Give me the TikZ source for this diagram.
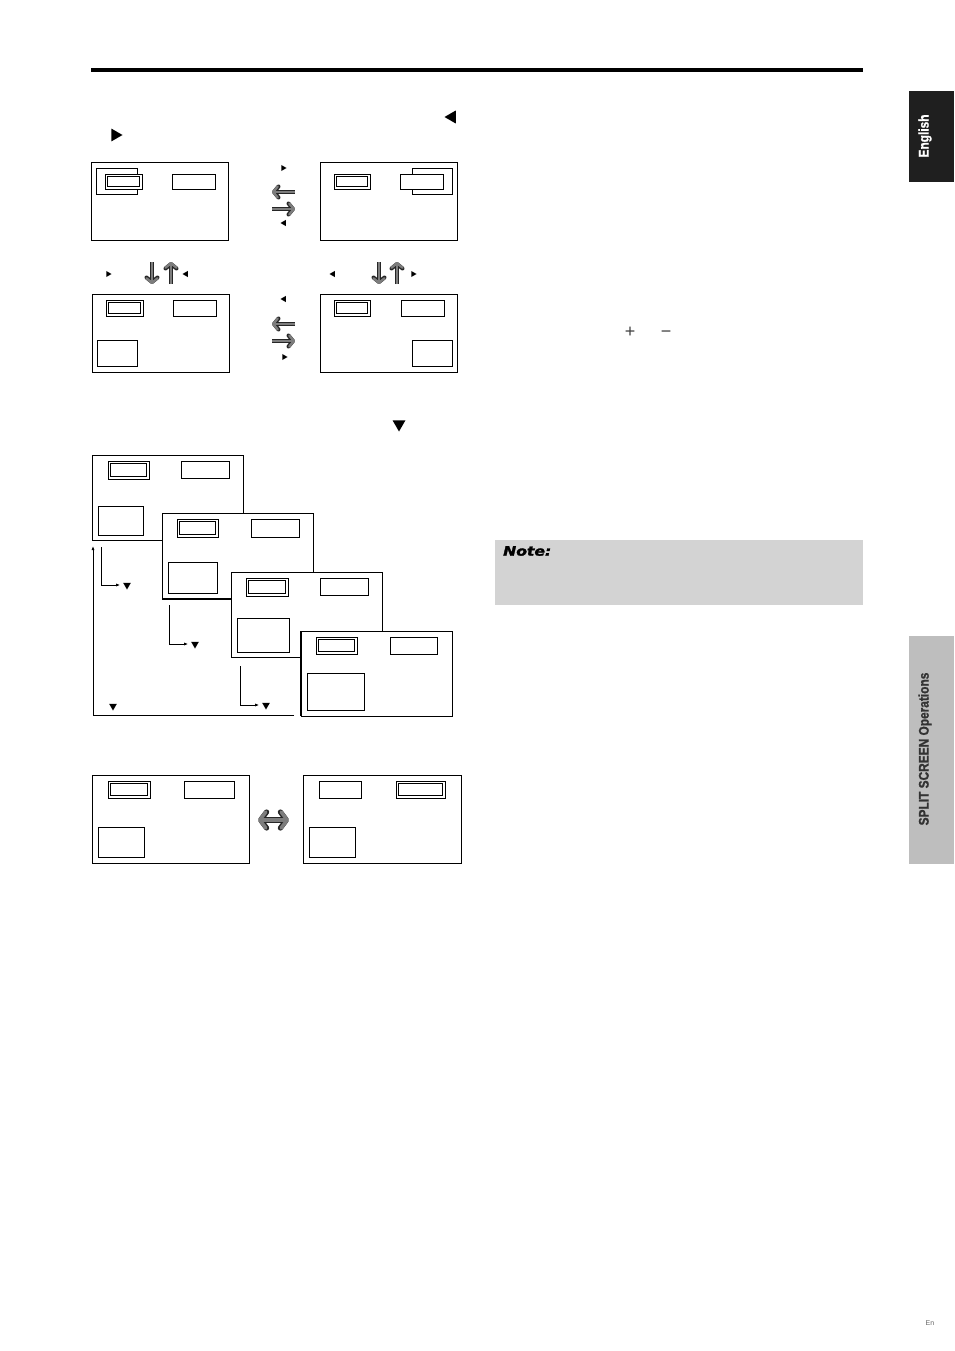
\documentclass[tikz,border=0pt]{standalone}
\usepackage{fontspec}
\setmainfont{Liberation Sans}
\newfontfamily\tabfont[FakeStretch=0.85, FakeBold=1.2]{Liberation Sans Bold}
\newfontfamily\notefont[FakeStretch=1.2, FakeBold=2]{DejaVu Sans Bold Oblique}
\usetikzlibrary{arrows.meta,shapes.geometric}
\definecolor{tabgray}{RGB}{190,190,190}
\definecolor{notegray}{RGB}{211,211,211}
\definecolor{arrgray}{RGB}{125,125,125}
\tikzset{
  screen/.style={draw, line width=1pt, fill=white},
  win/.style={draw, line width=.9pt, fill=white},
  inwin/.style={draw, line width=.9pt},
  tri/.style={regular polygon, regular polygon sides=3, fill=black, inner sep=0pt, minimum size=#1},
  tri/.default=8pt,
  garrow/.style={arrgray, line width=2.4pt, #1, preaction={draw=black!85, line width=4pt, #1}},
  garrow/.default={-{Straight Barb[round,length=4.5pt,width=11pt]}},
  bigarrow/.style={arrgray, line width=3.6pt, {Straight Barb[round,length=6pt,width=16pt]}-{Straight Barb[round,length=6pt,width=16pt]},
    preaction={draw=black!85, line width=5.2pt, {Straight Barb[round,length=6pt,width=16pt]}-{Straight Barb[round,length=6pt,width=16pt]}}},
  loop/.style={line width=.8pt, -{Latex[length=4pt,width=3pt]}}
}
\begin{document}
\begin{tikzpicture}[x=1pt, y=-1pt]
  \useasboundingbox (0,0) rectangle (954,1351);
  \draw[line width=3.5pt] (91,70) -- (863,70);
  \node[tri=15pt, shape border rotate=90] (lefttri) at (452,117) {};
  \node[tri=15pt, shape border rotate=-90] (righttri) at (115,135) {};
  % row 1
  \draw[screen] (91,163) rectangle (228,240);
  \draw[win] (96,168) rectangle (137,194);
  \draw[win] (105,174) rectangle (142,189);
  \draw[inwin] (107.5,176.5) rectangle (139.5,186.5);
  \draw[win] (172,174) rectangle (215,189);
  \node[tri=7pt, shape border rotate=-90] (r1a) at (283,168) {};
  \draw[garrow] (295,192) -- (272,192);
  \draw[garrow] (272,209) -- (295,209);
  \node[tri=7pt, shape border rotate=90] (r1b) at (284,223) {};
  \draw[screen] (320,163) rectangle (457,240);
  \draw[win] (334,174) rectangle (370,189);
  \draw[inwin] (336.5,176.5) rectangle (367.5,186.5);
  \draw[win] (412,168) rectangle (452,194);
  \draw[win] (400,174) rectangle (443,189);
  % row 2 labels
  \node[tri=7pt, shape border rotate=-90] (r2a) at (108,274) {};
  \draw[garrow] (152,262) -- (152,284);
  \draw[garrow] (171,284) -- (171,262);
  \node[tri=7pt, shape border rotate=90] (r2b) at (186,274) {};
  \node[tri=7pt, shape border rotate=90] (r2c) at (333,274) {};
  \draw[garrow] (379,262) -- (379,284);
  \draw[garrow] (397,284) -- (397,262);
  \node[tri=7pt, shape border rotate=-90] (r2d) at (413,274) {};
  % row 2
  \draw[screen] (92,294) rectangle (229,372);
  \draw[win] (106,300) rectangle (143,316);
  \draw[inwin] (108.5,302.5) rectangle (140.5,313.5);
  \draw[win] (173,300) rectangle (216,316);
  \draw[win] (97,340) rectangle (137,366);
  \node[tri=7pt, shape border rotate=90] (r3a) at (284,299) {};
  \draw[garrow] (295,324) -- (272,324);
  \draw[garrow] (272,341) -- (295,341);
  \node[tri=7pt, shape border rotate=-90] (r3b) at (284,357) {};
  \draw[screen] (320,294) rectangle (457,372);
  \draw[win] (334,300) rectangle (370,316);
  \draw[inwin] (336.5,302.5) rectangle (367.5,313.5);
  \draw[win] (401,300) rectangle (444,316);
  \draw[win] (412,340) rectangle (452,366);
  % cascade
  \node[tri=15pt, shape border rotate=180] (downtri) at (399,424) {};
  \draw[screen] (92,455) rectangle (243,540);
  \draw[win] (108,461) rectangle (149,479);
  \draw[inwin] (110.5,463.5) rectangle (146.5,476.5);
  \draw[win] (181,461) rectangle (229,478);
  \draw[win] (98,506) rectangle (143,535);
  \draw[screen] (162,513) rectangle (313,599);
  \draw[line width=2pt] (162,599) -- (231,599);
  \draw[win] (177,519) rectangle (218,537);
  \draw[inwin] (179.5,521.5) rectangle (215.5,534.5);
  \draw[win] (251,519) rectangle (299,537);
  \draw[win] (168,562) rectangle (217,593);
  \draw[screen] (231,572) rectangle (382,657);
  \draw[win] (246,578) rectangle (288,596);
  \draw[inwin] (248.5,580.5) rectangle (285.5,593.5);
  \draw[win] (320,578) rectangle (368,595);
  \draw[win] (237,618) rectangle (289,652);
  \draw[screen] (301,631) rectangle (452,716);
  \draw[line width=2pt] (301,631) -- (301,716);
  \draw[win] (316,637) rectangle (357,654);
  \draw[inwin] (318.5,639.5) rectangle (354.5,651.5);
  \draw[win] (390,637) rectangle (437,654);
  \draw[win] (307,673) rectangle (364,710);
  \node[tri=9pt, shape border rotate=180] (v1) at (127,585) {};
  \node[tri=9pt, shape border rotate=180] (v2) at (195,644) {};
  \node[tri=9pt, shape border rotate=180] (v3) at (266,705) {};
  \node[tri=9pt, shape border rotate=180] (v4) at (113,706) {};
  \draw[loop, shorten >=4pt] (101,547) |- (v1.west);
  \draw[loop, shorten >=4pt] (169,605) |- (v2.west);
  \draw[loop, shorten >=4pt] (240,666) |- (v3.west);
  \draw[loop] (294,715) -| (93,546);
  % swap
  \draw[screen] (92,775) rectangle (249,863);
  \draw[win] (108,781) rectangle (150,798);
  \draw[inwin] (110.5,783.5) rectangle (147.5,795.5);
  \draw[win] (184,781) rectangle (234,798);
  \draw[win] (98,827) rectangle (144,857);
  \draw[bigarrow] (258,820) -- (289,820);
  \draw[screen] (303,775) rectangle (461,863);
  \draw[win] (319,781) rectangle (361,798);
  \draw[win] (396,781) rectangle (445,798);
  \draw[inwin] (398.5,783.5) rectangle (442.5,795.5);
  \draw[win] (309,827) rectangle (355,857);
  % text column
  \node[anchor=base, text=black!75, font=\fontsize{18}{18}\selectfont] (plus) at (630,337) {+};
  \node[anchor=base, text=black!75, font=\fontsize{18}{18}\selectfont] (minus) at (666,337) {−};
  \fill[notegray] (495,540) rectangle (863,605);
  \node[anchor=west, inner sep=0pt, font=\notefont\fontsize{13}{13}\selectfont] (note) at (503,551) {Note:};
  % side tabs
  \fill[black!88] (909,91) rectangle (954,182);
  \node[rotate=90, text=white, font=\tabfont\fontsize{14}{14}\selectfont] (english) at (925,136) {English};
  \fill[tabgray] (909,636) rectangle (954,864);
  \node[rotate=90, text=black!80, font=\tabfont\fontsize{14}{14}\selectfont] (split) at (925,749) {SPLIT SCREEN Operations};
  \node[text=black!60, font=\fontsize{7}{7}\selectfont] (page) at (930,1323) {En};
\end{tikzpicture}
\end{document}
